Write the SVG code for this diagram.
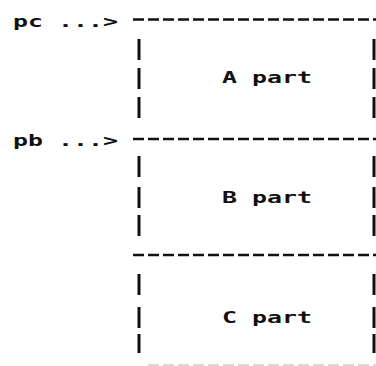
<svg xmlns="http://www.w3.org/2000/svg" width="376" height="366" viewBox="0 0 376 366">
<style>
.t{font-family:"DejaVu Sans Mono","Liberation Mono",monospace;font-size:16.5px;font-weight:bold;fill:#111}
.dash{stroke:#111;stroke-width:2.6;stroke-dasharray:11 4;fill:none}
.bar{fill:#111}
</style>
<rect width="376" height="366" fill="#fff"/>
<g id="connectors">
<path class="dash" d="M133 19.5H376"/>
<path class="dash" d="M133 139H376"/>
<path class="dash" d="M133 255H376"/>
<path d="M148 365H376" stroke="#ccc" stroke-width="1.5" stroke-dasharray="11 4"/>
</g>
<g id="pointer-pc"><text class="t" x="13" y="27" textLength="105" lengthAdjust="spacingAndGlyphs">pc ...&gt;</text></g>
<g id="pointer-pb"><text class="t" x="13" y="146" textLength="105" lengthAdjust="spacingAndGlyphs">pb ...&gt;</text></g>
<g id="partA">
<rect class="bar" x="137.5" y="39" width="3" height="21"/>
<rect class="bar" x="137.5" y="68" width="3" height="21"/>
<rect class="bar" x="137.5" y="97" width="3" height="21"/>
<rect class="bar" x="372.5" y="39" width="3" height="21"/>
<rect class="bar" x="372.5" y="68" width="3" height="21"/>
<rect class="bar" x="372.5" y="97" width="3" height="21"/>
<text class="t" x="222" y="83" textLength="90" lengthAdjust="spacingAndGlyphs">A part</text>
</g>
<g id="partB">
<rect class="bar" x="137.5" y="156" width="3" height="21"/>
<rect class="bar" x="137.5" y="187" width="3" height="21"/>
<rect class="bar" x="137.5" y="215" width="3" height="21"/>
<rect class="bar" x="372.5" y="156" width="3" height="21"/>
<rect class="bar" x="372.5" y="187" width="3" height="21"/>
<rect class="bar" x="372.5" y="215" width="3" height="21"/>
<text class="t" x="222" y="203" textLength="90" lengthAdjust="spacingAndGlyphs">B part</text>
</g>
<g id="partC">
<rect class="bar" x="137.5" y="274" width="3" height="21"/>
<rect class="bar" x="137.5" y="307" width="3" height="21"/>
<rect class="bar" x="137.5" y="334" width="3" height="19"/>
<rect class="bar" x="372.5" y="274" width="3" height="21"/>
<rect class="bar" x="372.5" y="307" width="3" height="21"/>
<rect class="bar" x="372.5" y="334" width="3" height="19"/>
<text class="t" x="222" y="323" textLength="90" lengthAdjust="spacingAndGlyphs">C part</text>
</g>
</svg>
